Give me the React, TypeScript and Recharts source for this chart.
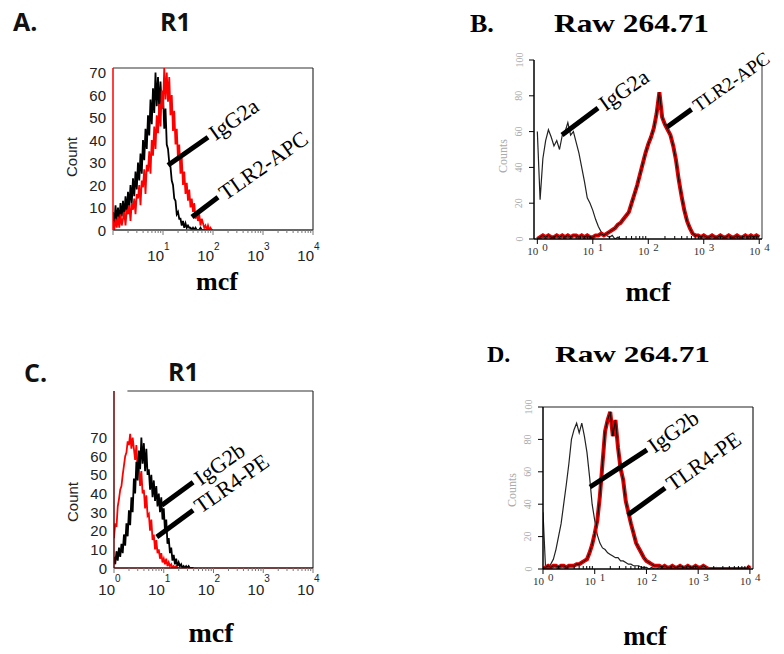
import React from "react";
import {
  LineChart,
  Line,
  XAxis,
  YAxis,
  ReferenceLine,
  ReferenceDot,
} from "recharts";

// histogram channels are log10(mcf) bins
const R1_STEP = 0.025;
const RAW_STEP = 0.05;

// A. R1 - TLR2
const r1Igg2a = [
  8, 2, 11, 4, 10, 3, 12, 6, 13, 6, 15, 8, 17, 10, 20, 12, 23, 15, 26, 18,
  30, 22, 34, 25, 40, 31, 45, 36, 51, 42, 58, 47, 63, 52, 70, 55, 68, 53, 66, 54,
  60, 45, 54, 38, 36, 30, 28, 22, 20, 14, 13, 7, 8, 5, 5, 2, 4, 1, 3, 1,
  2, 1, 1, 0, 1, 0, 1, 0, 0, 0, 1, 0, 0, 0, 0, 0, 0, 0, 0, 0, 0,
];
const r1Tlr2Apc = [
  4, 0, 5, 1, 6, 1, 7, 2, 5, 8, 2, 9, 7, 11, 4, 12, 9, 14, 7, 16,
  14, 20, 11, 22, 19, 27, 16, 29, 26, 35, 25, 40, 33, 46, 36, 51, 43, 56, 46, 62,
  54, 72, 58, 70, 57, 68, 51, 60, 44, 53, 38, 45, 31, 38, 25, 32, 20, 26, 16, 21,
  13, 18, 10, 14, 8, 12, 5, 8, 4, 7, 2, 5, 3, 1, 2, 0, 2, 0, 1, 0, 0,
];

// B. Raw 264.71 - TLR2
const rawIgg2a = [
  60, 22, 45, 55, 61, 57, 52, 55, 50, 58, 60, 65, 58, 60, 54, 48, 40, 32, 23, 20,
  16, 11, 7, 4, 3, 2, 1, 2, 0, 1, 0, 0, 0,
];
const rawTlr2Apc = [
  0, 1, 2, 1, 2, 1, 1, 2, 1, 2, 1, 2, 1, 2, 2, 1, 2, 1, 2, 1,
  1, 2, 2, 3, 2, 3, 4, 5, 6, 8, 9, 11, 13, 15, 20, 25, 30, 36, 42, 48,
  53, 57, 62, 70, 82, 68, 64, 61, 58, 52, 44, 33, 24, 16, 10, 6, 3, 2, 2, 1,
  2, 1, 1, 2, 1, 1, 2, 1, 1, 2, 1, 1, 2, 1, 1, 2, 1, 2, 1, 2, 1,
];

// C. R1 - TLR4
const r1Igg2b = [
  6, 2, 9, 4, 11, 6, 13, 8, 18, 12, 24, 17, 31, 23, 38, 30, 48, 40, 57, 47,
  63, 53, 70, 56, 67, 52, 64, 50, 53, 42, 50, 38, 47, 36, 44, 33, 40, 30, 38, 26,
  32, 20, 26, 13, 16, 8, 11, 4, 7, 2, 5, 1, 3, 1, 2, 0, 1, 0, 1, 0,
  1, 0, 0, 0, 0,
];
const r1Tlr4Pe = [
  16, 24, 22, 33, 37, 42, 44, 50, 55, 60, 62, 68, 66, 72, 64, 70, 64, 58, 66, 52,
  54, 44, 52, 40, 42, 32, 39, 28, 29, 20, 26, 15, 18, 10, 15, 8, 10, 5, 8, 3,
  5, 2, 5, 1, 3, 1, 2, 0, 1, 0, 1, 0, 0,
];

// D. Raw 264.71 - TLR4
const rawIgg2b = [
  35, 0, 1, 3, 6, 12, 20, 28, 40, 52, 65, 80, 86, 90, 84, 90, 82, 72, 57, 40,
  30, 21, 16, 13, 12, 10, 9, 8, 7, 7, 5, 5, 4, 3, 3, 2, 2, 2, 1, 1,
  1, 0, 1, 0, 0, 1, 0, 1, 0, 0, 1, 0, 0, 1, 0, 0, 1, 0, 0, 0,
  1, 0, 0, 1, 0, 0, 0, 1, 0, 0, 0, 0, 0, 0, 0, 0, 0, 0, 0, 0, 1,
];
const rawTlr4Pe = [
  0, 1, 2, 1, 2, 2, 1, 2, 2, 1, 2, 2, 2, 3, 3, 4, 5, 6, 10, 15,
  22, 30, 45, 65, 85, 92, 97, 82, 92, 75, 62, 55, 42, 35, 28, 22, 16, 13, 10, 7,
  5, 4, 3, 2, 2, 2, 1, 2, 1, 1, 2, 1, 1, 2, 1, 1, 2, 1, 1, 2,
  1, 1, 2, 1, 0, 0, 0, 0, 0, 0, 0, 0, 0, 0, 0, 0, 0, 0, 0, 0, 2,
];

const decades = [0, 1, 2, 3, 4];
const minorFactors = [2, 3, 4, 5, 6, 7, 8, 9];
const r1CountTicks = [0, 10, 20, 30, 40, 50, 60, 70];
const rawCountTicks = [0, 20, 40, 60, 80, 100];

type Row = { x: number; v: number };
const toRows = (values: number[], step: number): Row[] =>
  values.map((v, i) => ({ x: +(i * step).toFixed(3), v }));

const logTicks = [
  ...decades,
  ...decades.slice(0, 4).flatMap((d) => minorFactors.map((f) => d + Math.log10(f))),
].sort((a, b) => a - b);

const AXIS_W = 60;
const AXIS_H = 50;
const PAD_T = 20;
const PAD_R = 40;
const SANS = "Liberation Sans, Arial, sans-serif";
const SERIF = "Liberation Serif, Times New Roman, serif";

const isMajor = (v: number) => Math.abs(v - Math.round(v)) < 1e-6;

// A / C style ticks (sans, superscripted decades)
const r1XTick = (labelFrom: number, tenDy: number, expDy: number) => (p: any) => {
  const v = p.payload.value;
  const major = isMajor(v);
  return (
    <g>
      <line x1={p.x} x2={p.x} y1={p.y} y2={p.y + (major ? 5 : 3)} stroke="#777" />
      {major && v >= labelFrom && (
        <>
          <text x={p.x + 1} y={p.y + tenDy} textAnchor="end" fontFamily={SANS} fontSize={15} fill="#222">
            10
          </text>
          <text x={p.x + 1} y={p.y + expDy} textAnchor="start" fontFamily={SANS} fontSize={10} fill="#222">
            {Math.round(v)}
          </text>
        </>
      )}
    </g>
  );
};

const r1YTick = (p: any) => (
  <text x={p.x - 7} y={p.y} textAnchor="end" dominantBaseline="central" fontFamily={SANS} fontSize={15} fill="#222">
    {p.payload.value}
  </text>
);

// B / D style ticks (serif, cytometer export)
const rawXTick = (p: any) => {
  const v = p.payload.value;
  const major = isMajor(v);
  return (
    <g>
      {major ? (
        <line x1={p.x} x2={p.x} y1={p.y} y2={p.y + 5} stroke="#000" />
      ) : (
        <line x1={p.x} x2={p.x} y1={p.y} y2={p.y - 3} stroke="#000" />
      )}
      {major && (
        <>
          <text x={p.x + 1} y={p.y + 16} textAnchor="end" fontFamily={SERIF} fontSize={11} fill="#333">
            10
          </text>
          <text x={p.x + 5} y={p.y + 12} textAnchor="start" fontFamily={SERIF} fontSize={11} fill="#333">
            {Math.round(v)}
          </text>
        </>
      )}
    </g>
  );
};

const rawYTick = (p: any) => (
  <g>
    <line x1={p.x - 5} x2={p.x} y1={p.y} y2={p.y} stroke="#000" />
    <text
      x={p.x - 15}
      y={p.y}
      transform={`rotate(-90 ${p.x - 15} ${p.y})`}
      textAnchor="middle"
      dominantBaseline="central"
      fontFamily={SERIF}
      fontSize={10}
      fill="#aaa"
    >
      {p.payload.value}
    </text>
  </g>
);

type Series = { rows: Row[]; stroke: string; width: number };
type Note = { label: string; from: [number, number]; to: [number, number]; size?: number };
type PanelProps = {
  box: { x0: number; y0: number; x1: number; y1: number };
  xDomain: [number, number];
  yDomain: [number, number];
  yTicks: number[];
  xTick: (p: any) => React.ReactElement;
  yTick: (p: any) => React.ReactElement;
  leftAxis: string;
  bottomAxis: string;
  series: Series[];
  notes: Note[];
  topFrom?: number;
  rightFrame?: boolean;
  frameColor?: string;
};

function Panel(props: PanelProps) {
  const { box, xDomain, yDomain } = props;
  const width = box.x1 - box.x0 + AXIS_W + PAD_R;
  const height = box.y1 - box.y0 + PAD_T + AXIS_H;
  const frame = props.frameColor ?? "#333";
  return (
    <div style={{ position: "absolute", left: box.x0 - AXIS_W, top: box.y0 - PAD_T }}>
      <LineChart width={width} height={height} margin={{ top: PAD_T, right: PAD_R, bottom: 0, left: 0 }}>
        <XAxis
          dataKey="x"
          type="number"
          domain={xDomain}
          allowDataOverflow
          ticks={logTicks}
          interval={0}
          height={AXIS_H}
          tickSize={0}
          tickMargin={0}
          tickLine={false}
          tick={props.xTick}
          axisLine={{ stroke: props.bottomAxis, strokeWidth: 1.5 }}
        />
        <YAxis
          dataKey="v"
          type="number"
          domain={yDomain}
          allowDataOverflow
          ticks={props.yTicks}
          interval={0}
          width={AXIS_W}
          tickSize={0}
          tickMargin={0}
          tickLine={false}
          tick={props.yTick}
          axisLine={{ stroke: props.leftAxis, strokeWidth: 1.5 }}
        />
        {props.topFrom !== undefined && (
          <ReferenceLine
            segment={[
              { x: props.topFrom, y: yDomain[1] },
              { x: xDomain[1], y: yDomain[1] },
            ]}
            stroke={frame}
            strokeWidth={1.2}
            ifOverflow="visible"
          />
        )}
        {props.rightFrame && (
          <ReferenceLine x={xDomain[1]} stroke={frame} strokeWidth={1.2} ifOverflow="visible" />
        )}
        {props.series.map((s, i) => (
          <Line
            key={i}
            data={s.rows}
            dataKey="v"
            type="linear"
            stroke={s.stroke}
            strokeWidth={s.width}
            dot={false}
            activeDot={false}
            isAnimationActive={false}
          />
        ))}
        {props.notes.map((n) => (
          <ReferenceLine
            key={n.label + "-line"}
            segment={[
              { x: n.from[0], y: n.from[1] },
              { x: n.to[0], y: n.to[1] },
            ]}
            stroke="#000"
            strokeWidth={5}
            ifOverflow="visible"
          />
        ))}
        {props.notes.map((n) => (
          <ReferenceDot
            key={n.label + "-text"}
            x={n.to[0]}
            y={n.to[1]}
            r={0}
            ifOverflow="visible"
            shape={(p: any) => (
              <text
                x={p.cx + 4}
                y={p.cy}
                transform={`rotate(-35 ${p.cx} ${p.cy})`}
                dominantBaseline="central"
                fontFamily={SERIF}
                fontSize={n.size ?? 22}
                fill="#000"
              >
                {n.label}
              </text>
            )}
          />
        ))}
      </LineChart>
    </div>
  );
}

export default function App() {
  return (
    <div
      style={{
        position: "absolute",
        left: 0,
        top: 0,
        width: 784,
        height: 654,
        overflow: "hidden",
        background: "#fff",
      }}
    >
      <Panel
        box={{ x0: 113, y0: 68, x1: 313, y1: 230 }}
        xDomain={[0, 4]}
        yDomain={[0, 72]}
        yTicks={r1CountTicks}
        xTick={r1XTick(1, 31, 20)}
        yTick={r1YTick}
        leftAxis="#ff0000"
        bottomAxis="#333"
        topFrom={0}
        rightFrame
        series={[
          { rows: toRows(r1Igg2a, R1_STEP), stroke: "#000", width: 1.8 },
          { rows: toRows(r1Tlr2Apc, R1_STEP), stroke: "#ff0000", width: 1.8 },
        ]}
        notes={[
          { label: "IgG2a", from: [1.1, 28.8], to: [1.9, 41.2] },
          { label: "TLR2-APC", from: [1.58, 5.8], to: [2.1, 14.6] },
        ]}
      />
      <Panel
        box={{ x0: 534, y0: 60, x1: 762, y1: 239 }}
        xDomain={[-0.06, 4.05]}
        yDomain={[0, 100]}
        yTicks={rawCountTicks}
        xTick={rawXTick}
        yTick={rawYTick}
        leftAxis="#000"
        bottomAxis="#000"
        rightFrame
        frameColor="#555"
        series={[
          { rows: toRows(rawIgg2a, RAW_STEP), stroke: "#222", width: 1.2 },
          { rows: toRows(rawTlr2Apc, RAW_STEP), stroke: "#e00000", width: 4 },
          { rows: toRows(rawTlr2Apc, RAW_STEP), stroke: "#000", width: 1 },
        ]}
        notes={[
          { label: "IgG2a", from: [0.445, 58.1], to: [1.094, 73.2] },
          { label: "TLR2-APC", from: [2.34, 62.6], to: [2.78, 72.4], size: 19 },
        ]}
      />
      <Panel
        box={{ x0: 114, y0: 391, x1: 313, y1: 568 }}
        xDomain={[0, 4]}
        yDomain={[0, 95]}
        yTicks={r1CountTicks}
        xTick={r1XTick(0, 27, 14)}
        yTick={r1YTick}
        leftAxis="#6b0000"
        bottomAxis="#400"
        topFrom={0.27}
        rightFrame
        series={[
          { rows: toRows(r1Tlr4Pe, R1_STEP), stroke: "#ff0000", width: 1.8 },
          { rows: toRows(r1Igg2b, R1_STEP), stroke: "#000", width: 1.8 },
        ]}
        notes={[
          { label: "IgG2b", from: [0.96, 33.7], to: [1.59, 46] },
          { label: "TLR4-PE", from: [0.86, 16.6], to: [1.59, 31] },
        ]}
      />
      <Panel
        box={{ x0: 543, y0: 407, x1: 753, y1: 569 }}
        xDomain={[0, 4.06]}
        yDomain={[0, 100]}
        yTicks={rawCountTicks}
        xTick={rawXTick}
        yTick={rawYTick}
        leftAxis="#000"
        bottomAxis="#000"
        topFrom={0}
        rightFrame
        frameColor="#222"
        series={[
          { rows: toRows(rawIgg2b, RAW_STEP), stroke: "#222", width: 1.2 },
          { rows: toRows(rawTlr4Pe, RAW_STEP), stroke: "#e00000", width: 4 },
          { rows: toRows(rawTlr4Pe, RAW_STEP), stroke: "#000", width: 1 },
        ]}
        notes={[
          { label: "IgG2b", from: [0.91, 50.6], to: [2.01, 73.5] },
          { label: "TLR4-PE", from: [1.64, 33.3], to: [2.36, 50] },
        ]}
      />
      <svg
        width={784}
        height={654}
        style={{ position: "absolute", left: 0, top: 0, pointerEvents: "none" }}
      >
        <g fontFamily="Open Sans, sans-serif" fontWeight="bold" fontSize={25} fill="#111">
          <text x={13} y={31}>A.</text>
          <text x={160} y={31}>R1</text>
          <text x={24} y={382}>C.</text>
          <text x={168} y={381}>R1</text>
        </g>
        <g fontFamily={SERIF} fontWeight="bold" fill="#000">
          <text x={470} y={32} fontSize={26}>B.</text>
          <text x={554} y={32} fontSize={26} textLength={155} lengthAdjust="spacingAndGlyphs">
            Raw 264.71
          </text>
          <text x={487} y={362} fontSize={24}>D.</text>
          <text x={555} y={362} fontSize={24} textLength={155} lengthAdjust="spacingAndGlyphs">
            Raw 264.71
          </text>
          <text x={217} y={290} fontSize={26} textAnchor="middle">mcf</text>
          <text x={648} y={301} fontSize={28} textAnchor="middle">mcf</text>
          <text x={211} y={642} fontSize={28} textAnchor="middle">mcf</text>
          <text x={645} y={645} fontSize={27} textAnchor="middle">mcf</text>
        </g>
        <g fontFamily={SANS} fontSize={15} fill="#222" textAnchor="middle" dominantBaseline="central">
          <text x={71} y={157} transform="rotate(-90 71 157)">Count</text>
          <text x={72} y={502} transform="rotate(-90 72 502)">Count</text>
        </g>
        <g fontFamily={SERIF} fontSize={12} fill="#aaa" textAnchor="middle" dominantBaseline="central">
          <text x={503} y={156} transform="rotate(-90 503 156)">Counts</text>
          <text x={512} y={490} transform="rotate(-90 512 490)">Counts</text>
        </g>
      </svg>
    </div>
  );
}
